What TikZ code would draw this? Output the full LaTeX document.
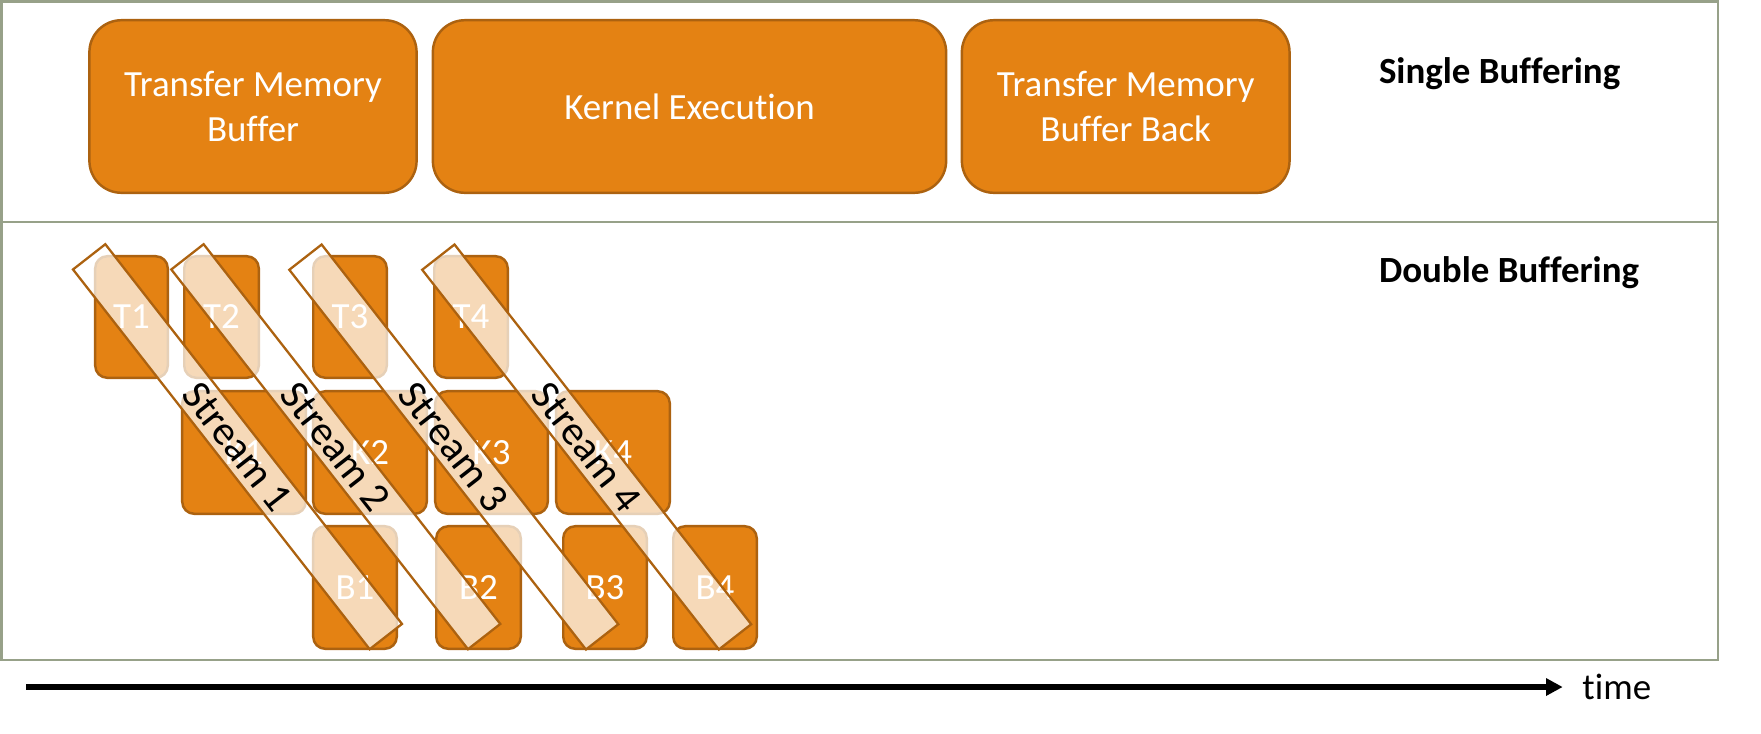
\documentclass[tikz,border=0pt]{standalone}
\usepackage{fontspec}
\setmainfont{Carlito}[Ligatures={NoCommon,NoContextual}]
\usetikzlibrary{arrows.meta}
\definecolor{boxfill}{RGB}{228,130,19}
\definecolor{boxline}{RGB}{172,98,16}
\definecolor{frameline}{RGB}{151,161,137}
\tikzset{
  bigbox/.style={draw=boxline, fill=boxfill, line width=0.7pt, rounded corners=0.32cm,
    text=white, align=center, minimum height=1.725cm, inner sep=0pt,
    font=\fontsize{10.5}{12.6}\selectfont},
  smallbox/.style={draw=boxline, fill=boxfill, line width=0.7pt, rounded corners=0.12cm,
    text=white, inner sep=0pt, font=\fontsize{10.5}{12.6}\selectfont},
  streambox/.style={draw=boxline, line width=0.65pt, fill=white, fill opacity=0.7,
    text opacity=1, rotate=-52, minimum width=4.816cm, minimum height=0.41cm,
    inner sep=0pt, font=\fontsize{11.8}{14}\selectfont},
  heading/.style={anchor=base west, inner sep=0pt, font=\bfseries\fontsize{10.5}{12.6}\selectfont}
}
\begin{document}
\begin{tikzpicture}[x=0.01cm, y=-0.01cm] %[scale=0.8]
    \useasboundingbox (0,0) rectangle (1761,733);
    \draw [frameline, line width=0.75pt] (1.3,1.3) rectangle (1718,660);
    \draw [frameline, line width=0.75pt] (1.3,222) -- (1718,222);
    % single buffering
    \node [bigbox, minimum width=3.27cm] (tmb) at (253,106.5) {Transfer Memory\\Buffer};
    \node [bigbox, minimum width=5.13cm] (kex) at (689.5,106.5) {Kernel Execution};
    \node [bigbox, minimum width=3.275cm] (tmbb) at (1125.7,106.5) {Transfer Memory\\Buffer Back};
    \node [heading] (single) at (1378.3,83.3) {Single Buffering};
    \node [heading] (double) at (1378.3,282.5) {Double Buffering};
    % double buffering
    \node [smallbox, minimum width=0.725cm, minimum height=1.215cm] (t1) at (131.5,317) {T1};
    \node [smallbox, minimum width=0.745cm, minimum height=1.215cm] (t2) at (221.5,317) {T2};
    \node [smallbox, minimum width=0.735cm, minimum height=1.215cm] (t3) at (350,317) {T3};
    \node [smallbox, minimum width=0.735cm, minimum height=1.215cm] (t4) at (471,317) {T4};
    \node [smallbox, minimum width=1.235cm, minimum height=1.225cm] (k1) at (244,452.5) {K1};
    \node [smallbox, minimum width=1.135cm, minimum height=1.225cm] (k2) at (370,452.5) {K2};
    \node [smallbox, minimum width=1.125cm, minimum height=1.225cm] (k3) at (491.5,452.5) {K3};
    \node [smallbox, minimum width=1.135cm, minimum height=1.225cm] (k4) at (613,452.5) {K4};
    \node [smallbox, minimum width=0.835cm, minimum height=1.225cm] (b1) at (355,587.5) {B1};
    \node [smallbox, minimum width=0.845cm, minimum height=1.225cm] (b2) at (478.5,587.5) {B2};
    \node [smallbox, minimum width=0.835cm, minimum height=1.225cm] (b3) at (605,587.5) {B3};
    \node [smallbox, minimum width=0.835cm, minimum height=1.225cm] (b4) at (715,587.5) {B4};
    \node [streambox] (s1) at (237.5,446.7) {Stream 1};
    \node [streambox] (s2) at (335.8,446.7) {Stream 2};
    \node [streambox] (s3) at (453.8,447) {Stream 3};
    \node [streambox] (s4) at (586.7,447) {Stream 4};
    % time axis
    \coordinate (tstart) at (26,687);
    \node [anchor=base west, inner xsep=0.19cm, inner ysep=0pt,
      font=\fontsize{10.5}{12.6}\selectfont] (time) at (1562.7,699) {time};
    \draw [-{Triangle[length=0.167cm,width=0.167cm]}, line width=1.7pt] (tstart) -- (tstart -| time.west);
  \end{tikzpicture}
\end{document}
